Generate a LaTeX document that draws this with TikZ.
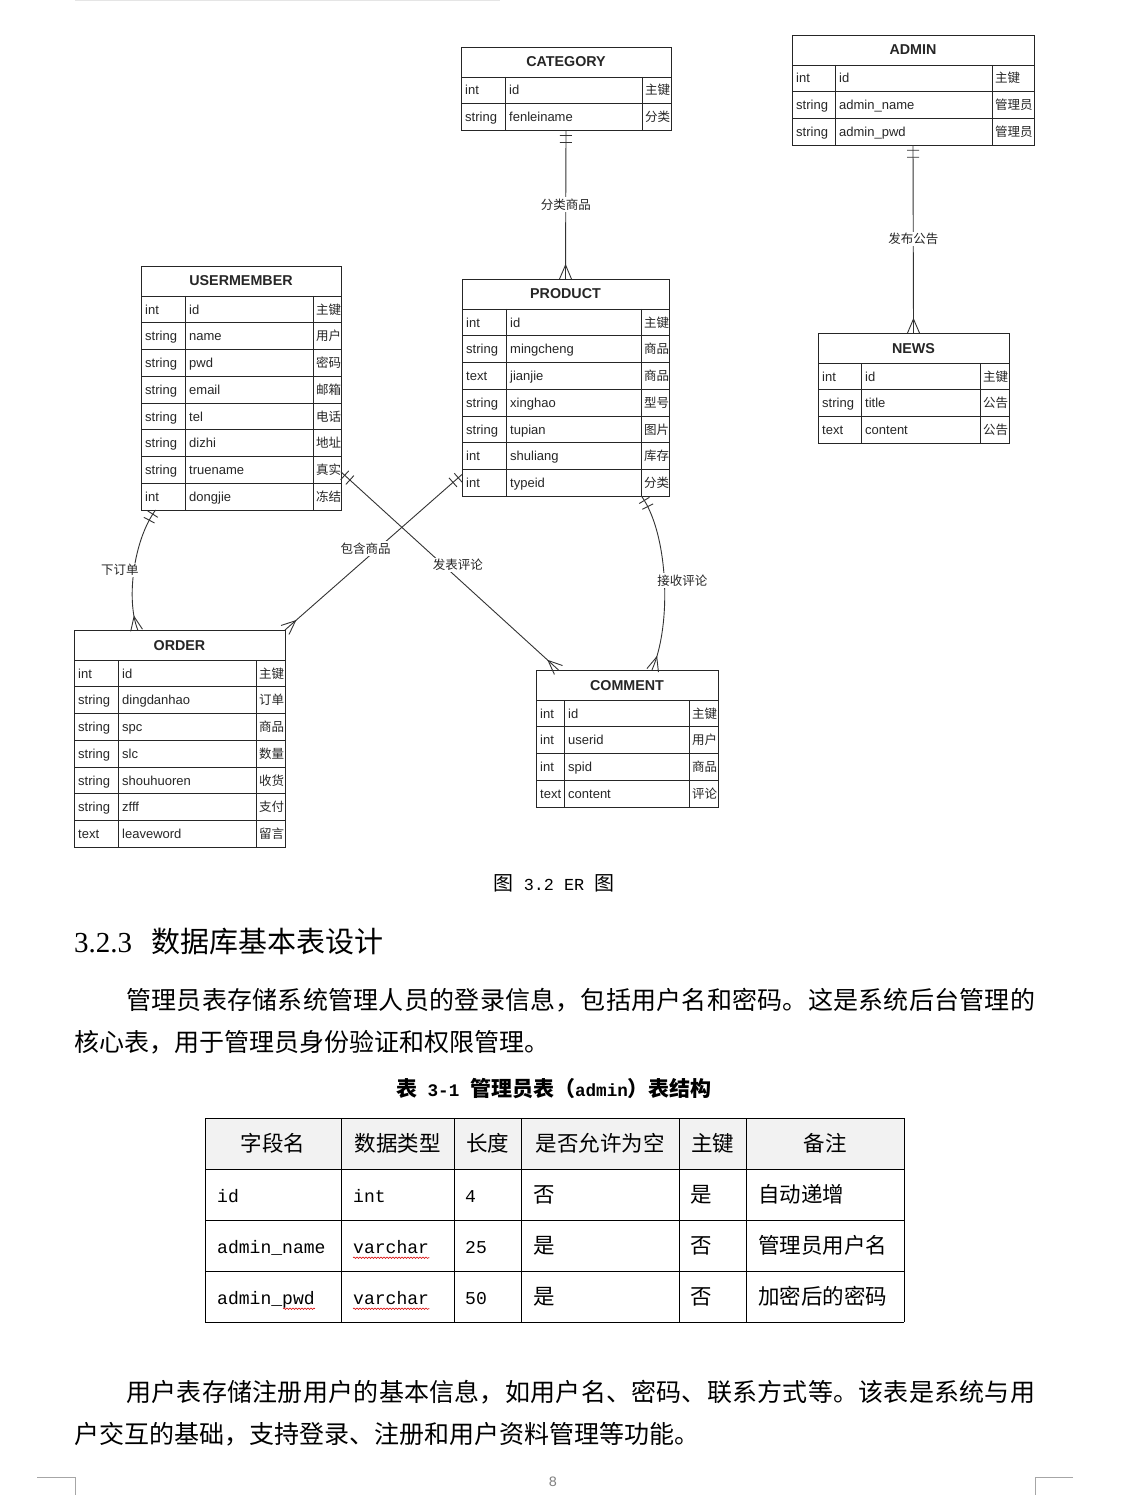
\documentclass[tikz,border=0pt]{standalone}
\usepackage{fontspec}
\usetikzlibrary{
  positioning,
  decorations.markings,
  decorations.pathmorphing
}
\newfontfamily\erfont{Liberation Sans}
\newfontfamily\cjk{Noto Sans CJK SC}
\newfontfamily\lat{Liberation Mono}[Scale=0.84]
\newfontfamily\numserif{Liberation Serif}
\XeTeXlinebreaklocale "zh"
\XeTeXlinebreakskip = 0pt plus 2pt

% entity table: name, left, top, three column widths, title, rows type/field/note
\newcommand{\erentity}[8]{%
  \pgfmathsetmacro{\ew}{#4+#5+#6}%
  \begin{scope}
    \clip (#2,#3-2) rectangle (#2+\ew,#3+400);
    \node[enttitle] (#1-title) at (#2+\ew/2,#3+20) {#7};
    \foreach \ty/\fd/\cm [count=\i] in {#8} {
      \pgfmathsetmacro{\ry}{#3+30+(\i-1)*26.75}
      \draw[entgrid] (#2,\ry) rectangle (#2+\ew,\ry+26.75)
        (#2+#4,\ry) -- (#2+#4,\ry+26.75)
        (#2+#4+#5,\ry) -- (#2+#4+#5,\ry+26.75);
      \node[enttext] (#1-type\i) at (#2+4,\ry+18) {\ty};
      \node[enttext] (#1-field\i) at (#2+#4+4,\ry+18) {\fd};
      \node[entnote] (#1-note\i) at (#2+#4+#5+3,\ry+18) {\cm};
      \xdef\nrows{\i}
    }
  \end{scope}
  \node[entbox, minimum width=\ew, minimum height=30+\nrows*26.75]
    (#1) at (#2+\ew/2,#3+15+\nrows*13.375) {};
}

\begin{document}
\begin{tikzpicture}[
  x=1pt, y=-1pt,
  enttitle/.style={font=\erfont\bfseries\fontsize{14.3}{16}\selectfont,
    anchor=base, inner sep=0pt, text=black!85},
  enttext/.style={font=\erfont\fontsize{13}{15}\selectfont,
    anchor=base west, inner sep=0pt, text=black!85},
  entnote/.style={font=\cjk\fontsize{12.5}{15}\selectfont,
    anchor=base west, inner sep=0pt, text=black!85},
  entgrid/.style={draw=black!85, line width=0.8pt},
  entbox/.style={rectangle, draw=black!85, line width=0.9pt,
    inner sep=0pt, outer sep=0pt},
  tickstroke/.style={draw=black!80, line width=0.9pt},
  relline/.style={draw=black!80, line width=0.9pt,
    postaction={decorate, decoration={markings,
      mark=at position 5pt with {\draw[tickstroke] (0pt,-6pt) -- (0pt,6pt);},
      mark=at position 12pt with {\draw[tickstroke] (0pt,-6pt) -- (0pt,6pt);},
      mark=at position -14pt with {\draw[tickstroke] (14pt,6pt) -- (0pt,0pt) -- (14pt,-6pt);}}}},
  rellabel/.style={font=\cjk\fontsize{12.5}{15}\selectfont, fill=white,
    inner sep=1.5pt, text=black!85},
  bodytext/.style={font=\cjk\fontsize{25}{42}\selectfont, text width=961pt,
    align=justify, inner sep=0pt, anchor=north west},
  cellhead/.style={font=\cjk\fontsize{21.5}{24}\selectfont, anchor=base, inner sep=0pt},
  cellleft/.style={font=\cjk\fontsize{21.5}{24}\selectfont, anchor=base west, inner sep=0pt},
  tablegrid/.style={draw=black, line width=1pt},
  spellmark/.style={draw=red!85!black, line width=0.6pt, decorate,
    decoration={snake, amplitude=0.7pt, segment length=3pt}},
  pagemark/.style={draw=black!35, line width=0.8pt},
]
\useasboundingbox (0,0) rectangle (1139,1495);
\fill[white] (0,0) rectangle (1139,1495);
\draw[black!10, line width=1pt] (75,0.5) -- (500,0.5);

% entities
\erentity{category}{461}{47}{44}{137}{29}{CATEGORY}
  {int/id/主键, string/fenleiname/分类}
\erentity{admin}{792}{35}{43}{157}{42}{ADMIN}
  {int/id/主键, string/admin\_name/管理员, string/admin\_pwd/管理员}
\erentity{usermember}{141}{266}{44}{128}{28}{USERMEMBER}
  {int/id/主键, string/name/用户, string/pwd/密码, string/email/邮箱,
   string/tel/电话, string/dizhi/地址, string/truename/真实, int/dongjie/冻结}
\erentity{product}{462}{279}{44}{135}{28}{PRODUCT}
  {int/id/主键, string/mingcheng/商品, text/jianjie/商品, string/xinghao/型号,
   string/tupian/图片, int/shuliang/库存, int/typeid/分类}
\erentity{news}{818}{333}{43}{119}{29}{NEWS}
  {int/id/主键, string/title/公告, text/content/公告}
\erentity{order}{74}{630}{44}{138}{29}{ORDER}
  {int/id/主键, string/dingdanhao/订单, string/spc/商品, string/slc/数量,
   string/shouhuoren/收货, string/zfff/支付, text/leaveword/留言}
\erentity{comment}{536}{670}{28}{125}{29}{COMMENT}
  {int/id/主键, int/userid/用户, int/spid/商品, text/content/评论}

% relationships
\draw[relline] (category.south) -- (product.north)
  node[midway, rellabel] {分类商品};
\draw[relline] (admin.south) -- (news.north)
  node[midway, rellabel] {发布公告};
\draw[relline] (usermember.235.5) .. controls +(-22,30) and +(-12,-30) .. (order.111.4)
  node[midway, rellabel, xshift=-14pt] {下订单};
\draw[relline] (product.220.7) -- (order.north east)
  node[midway, rellabel, xshift=-8pt, yshift=4pt] {包含商品};
\draw[relline] (usermember.320.6) -- (comment.135.6)
  node[midway, rellabel, xshift=8pt, yshift=6pt] {发表评论};
\draw[relline] (product.305.4) .. controls +(27,38) and +(20,-45) .. (comment.70)
  node[midway, rellabel, xshift=18pt] {接收评论};

% caption and heading
\node[font=\cjk\fontsize{20}{24}\selectfont, anchor=base] (figcap) at (554,890)
  {图{\lat\ 3.2 ER\ }图};
\node[anchor=base west, inner sep=0pt] (sechead) at (74,952)
  {{\numserif\fontsize{29}{34}\selectfont 3.2.3}\hspace{19pt}{\cjk\fontsize{29}{34}\selectfont 数据库基本表设计}};

% paragraph one
\node[bodytext] (para1) at (74,988)
  {\hspace*{52pt}管理员表存储系统管理人员的登录信息，包括用户名和密码。这是系统后台管理的\linebreak 核心表，用于管理员身份验证和权限管理。};

% table
\node[font=\cjk\bfseries\fontsize{21}{24}\selectfont, anchor=base] (tabcap) at (554,1096)
  {表{\lat\bfseries\ 3-1\ }管理员表（{\lat\bfseries admin}）表结构};
\fill[black!5] (205,1118) rectangle (904,1169);
\foreach \gx in {205,341,454,521,679,746,904}
  \draw[tablegrid] (\gx,1118) -- (\gx,1322);
\foreach \gy in {1118,1169,1220,1271,1322}
  \draw[tablegrid] (205,\gy) -- (904,\gy);
\foreach \cx/\txt [count=\c] in {273/字段名, 397.5/数据类型, 487.5/长度,
    600/是否允许为空, 712.5/主键, 825/备注}
  \node[cellhead] (h\c) at (\cx,1151.7) {\txt};
\foreach \cx/\txt [count=\c] in {217/\lat id, 353/\lat int, 465/\lat 4,
    533/否, 690/是, 758/自动递增}
  \node[cellleft] (ra\c) at (\cx,1202.7) {\txt};
\foreach \cx/\txt [count=\c] in {217/\lat admin\_name, 353/\lat varchar, 465/\lat 25,
    533/是, 690/否, 758/管理员用户名}
  \node[cellleft] (rb\c) at (\cx,1253.7) {\txt};
\foreach \cx/\txt [count=\c] in {217/\lat admin\_pwd, 353/\lat varchar, 465/\lat 50,
    533/是, 690/否, 758/加密后的密码}
  \node[cellleft] (rc\c) at (\cx,1304.7) {\txt};
\draw[spellmark] ([yshift=-4pt]rb2.base west) -- ([yshift=-4pt]rb2.base east);
\draw[spellmark] ([yshift=-4pt]rc2.base west) -- ([yshift=-4pt]rc2.base east);
\draw[spellmark] ([xshift=66pt,yshift=-4pt]rc1.base west) -- ([yshift=-4pt]rc1.base east);

% paragraph two
\node[bodytext] (para2) at (74,1380)
  {\hspace*{52pt}用户表存储注册用户的基本信息，如用户名、密码、联系方式等。该表是系统与用\linebreak 户交互的基础，支持登录、注册和用户资料管理等功能。};

% page foot
\node[font=\lat\fontsize{17}{20}\selectfont, text=black!50] (pagenum) at (553,1482) {8};
\draw[pagemark] (37,1477) -- (75,1477) -- (75,1495);
\draw[pagemark] (1073,1477) -- (1035,1477) -- (1035,1495);
\end{tikzpicture}
\end{document}
